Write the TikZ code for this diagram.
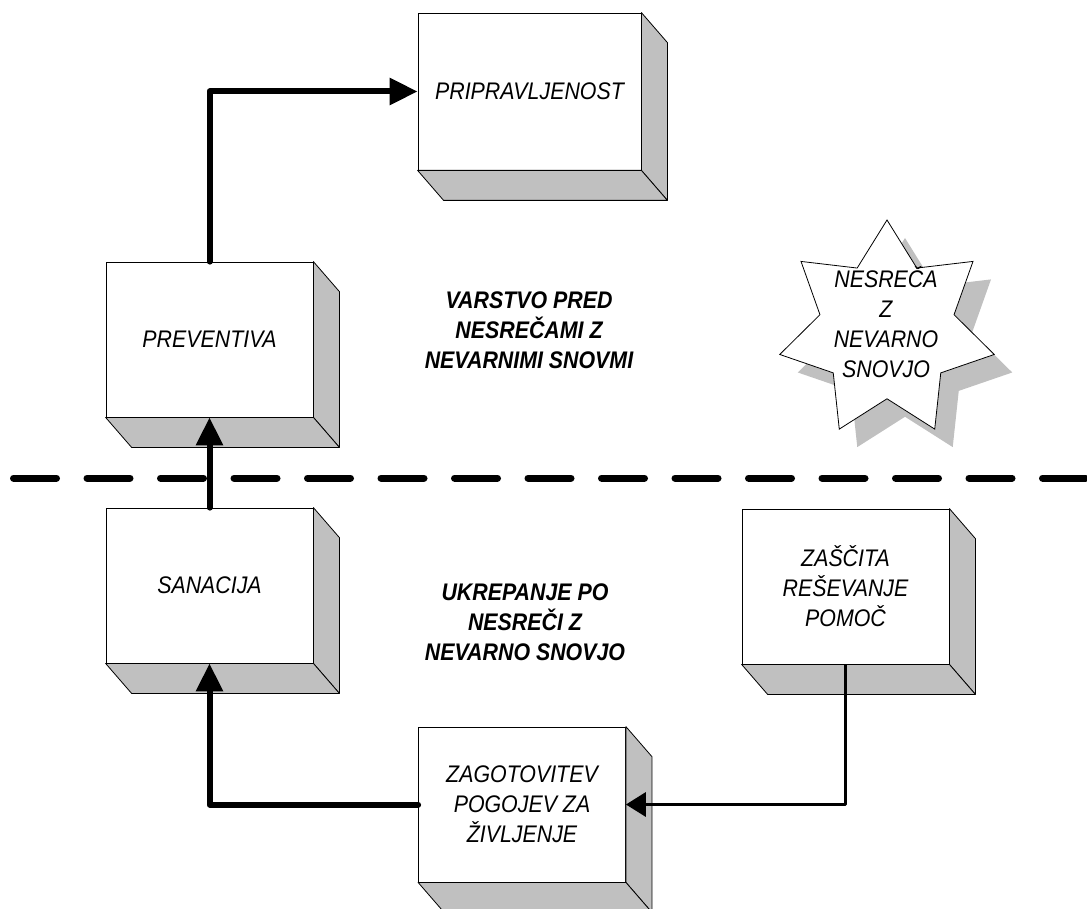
\documentclass[tikz,border=0pt]{standalone}
\usepackage{fontspec}
\setmainfont[FakeStretch=0.89]{Liberation Sans}
\usetikzlibrary{arrows.meta,shapes.geometric,shadows}
\definecolor{sidegray}{RGB}{192,192,192}
\tikzset{
  block/.style={draw, fill=white, line width=0.8pt, minimum width=207pt, minimum height=155pt,
    align=center, font=\fontsize{24}{30}\selectfont\itshape},
  side/.style={draw, fill=sidegray, line width=0.8pt, line join=round},
  flow/.style={line width=6pt, line cap=round, line join=round, -{Triangle[length=28pt,width=26pt]}},
  feed/.style={line width=3.5pt, line join=round, -{Triangle[length=20pt,width=24pt]}},
  divider/.style={line width=7pt, line cap=round, dash pattern=on 43pt off 30.5pt},
  heading/.style={align=center, font=\fontsize{24}{30}\selectfont\bfseries\itshape},
  accident/.style={star, star points=7, star point ratio=1.6, minimum size=220pt, inner sep=0pt,
    draw, fill=white, line width=0.8pt,
    drop shadow={shadow xshift=18pt, shadow yshift=-18pt, fill=sidegray, opacity=1}}
}
\newcommand{\blockdepth}[1]{%
  \draw[side] (#1.north east) -- ++(26,30) -- ([shift={(26,30)}]#1.south east) -- (#1.south east) -- cycle;
  \draw[side] (#1.south west) -- (#1.south east) -- ++(26,30) -- ([shift={(26,30)}]#1.south west) -- cycle;}
\begin{document}
\begin{tikzpicture}[x=1pt, y=-1pt]
  \useasboundingbox (0,0) rectangle (1087,909);
  \node[block, minimum width=223pt, minimum height=157pt] (ready) at (529.5,91.5) {PRIPRAVLJENOST};
  \node[block] (prevent) at (209.5,339.5) {PREVENTIVA};
  \node[block] (repair) at (209.5,585.5) {SANACIJA};
  \node[block] (rescue) at (845.5,586.5) {ZAŠČITA\\REŠEVANJE\\POMOČ};
  \node[block] (living) at (522,804.5) {ZAGOTOVITEV\\POGOJEV ZA\\ŽIVLJENJE};
  \blockdepth{ready}
  \blockdepth{prevent}
  \blockdepth{repair}
  \blockdepth{rescue}
  \blockdepth{living}
  \node[accident] (accident) at (887,330) {};
  \node[align=center, font=\fontsize{24}{30}\selectfont\itshape] (accidenttext) at (886,322)
    {NESREČA\\Z\\NEVARNO\\SNOVJO};
  \node[heading] (before) at (529,330) {VARSTVO PRED\\NESREČAMI Z\\NEVARNIMI SNOVMI};
  \node[heading] (after) at (525,622) {UKREPANJE PO\\NESREČI Z\\NEVARNO SNOVJO};
  \draw[divider] (13.5,478) -- (1087,478);
  \draw[flow] (prevent.north) |- (ready.west);
  \draw[flow] (repair.north) -- (prevent.south);
  \draw[flow] (living.west) -| (repair.south);
  \draw[feed] (rescue.south) |- (living.east);
\end{tikzpicture}
\end{document}
